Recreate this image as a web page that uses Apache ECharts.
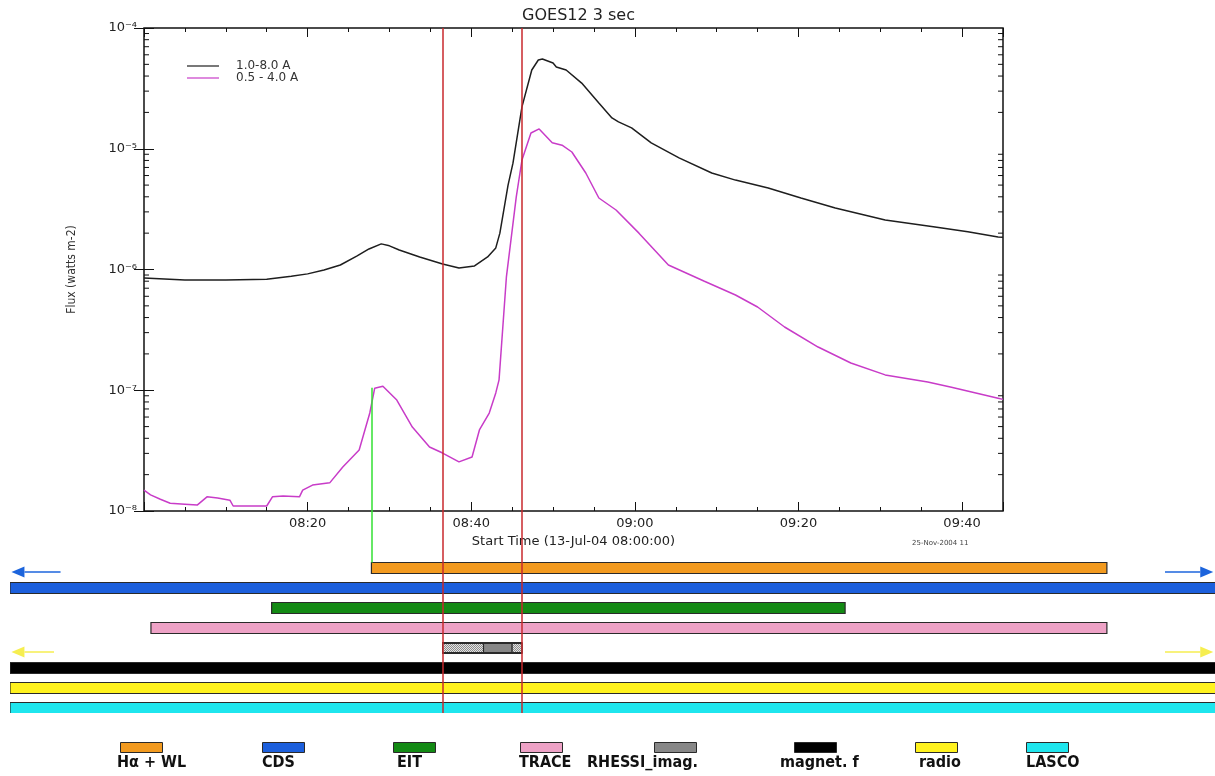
<!DOCTYPE html>
<html><head><meta charset="utf-8">
<script src="https://cdn.jsdelivr.net/npm/echarts@6/dist/echarts.min.js"></script>
<style>html,body{margin:0;padding:0;background:#fff}#c{width:1215px;height:776px}</style>
</head><body><div id="c"></div>
<script>
// ---- data (minutes after 08:00 on 13-Jul-2004) ----
const timeLong = [0,5,10,15,18,20,22,24,26,27.5,29,30,31.2,33.7,36.5,38.5,40.4,42,43,43.5,44.5,45.1,46.2,47.4,48.2,48.7,50,50.4,51.6,53.5,55.6,57.2,58,59.6,62,65.4,69.4,72.3,76.3,80.3,84.5,90.6,96.7,100.7,104.4,105];
const fluxLong = [8.5e-7,8.2e-7,8.2e-7,8.3e-7,8.8e-7,9.2e-7,9.9e-7,1.09e-6,1.29e-6,1.48e-6,1.63e-6,1.57e-6,1.45e-6,1.27e-6,1.11e-6,1.03e-6,1.07e-6,1.27e-6,1.51e-6,2.0e-6,5.0e-6,7.6e-6,2.22e-5,4.49e-5,5.43e-5,5.53e-5,5.13e-5,4.76e-5,4.49e-5,3.5e-5,2.39e-5,1.80e-5,1.67e-5,1.49e-5,1.12e-5,8.4e-6,6.3e-6,5.5e-6,4.73e-6,3.91e-6,3.23e-6,2.57e-6,2.25e-6,2.05e-6,1.86e-6,1.85e-6];
const timeShort = [0,0.8,2,3.2,5,6.5,7.7,9,10.5,10.9,15,15.7,17,19,19.4,20.6,22.7,24.3,26.3,27.6,28.2,29.2,30.9,32.8,34.9,36.5,38.5,40.1,41,42.2,43,43.4,44.3,45.5,46.2,47.3,48.3,49.9,51.1,52.3,54,55.6,57.7,60.5,64.1,68.5,72.3,75,78.3,82.4,86.4,90.6,95.8,98.7,104.4,105];
const fluxShort = [1.49e-8,1.36e-8,1.25e-8,1.16e-8,1.14e-8,1.12e-8,1.31e-8,1.28e-8,1.23e-8,1.10e-8,1.10e-8,1.31e-8,1.33e-8,1.31e-8,1.49e-8,1.64e-8,1.71e-8,2.31e-8,3.20e-8,6.48e-8,1.04e-7,1.08e-7,8.3e-8,4.96e-8,3.39e-8,3.02e-8,2.55e-8,2.80e-8,4.69e-8,6.48e-8,9.5e-8,1.22e-7,8.7e-7,3.98e-6,8.07e-6,1.35e-5,1.46e-5,1.12e-5,1.07e-5,9.4e-6,6.3e-6,3.91e-6,3.11e-6,2.0e-6,1.09e-6,8.0e-7,6.15e-7,4.89e-7,3.34e-7,2.28e-7,1.68e-7,1.34e-7,1.17e-7,1.06e-7,8.6e-8,8.4e-8];

const seriesNames = ['1.0-8.0 A', '0.5 - 4.0 A'];
const xTickValues = [20, 40, 60, 80, 100];
const xTickLabels = ['08:20', '08:40', '09:00', '09:20', '09:40'];
const yTickExponents = [-8, -7, -6, -5, -4];
const yTickLabels = ['10⁻⁸', '10⁻⁷', '10⁻⁶', '10⁻⁵', '10⁻⁴'];
const minorMultipliers = [2, 3, 4, 5, 6, 7, 8, 9];
const minorDecades = [-8, -7, -6, -5];

const instruments = ['Hα + WL', 'CDS', 'EIT', 'TRACE', 'RHESSI_imag.', 'magnet. f', 'radio', 'LASCO'];
const instrumentColors = ['#f29a1f', '#1c5fdc', '#138a14', '#eea2c6', '#878787', '#000000', '#fff21e', '#1fe6ee'];
const barStart = [27.8, -16.38, 15.6, 0.85, 36.5, -16.38, -16.38, -16.38];
const barEnd = [117.7, 160, 85.7, 117.7, 46.2, 160, 160, 160];
const rhessiSegStart = [36.5, 41.5, 45.0];
const rhessiSegEnd = [41.5, 45.0, 46.2];
const rhessiSegHatched = [true, false, true];
const markerTimes = [36.5, 46.2];
const flareMarkTime = 27.8;
const flareMarkFlux = 1.05e-7;
const arrowRow = [0.2, 0.2, 4.2, 4.2];
const arrowFrom = [-10.2, 124.8, -11.0, 124.8];
const arrowTo = [-16.2, 130.7, -16.2, 130.7];
const arrowColors = ['#1c64dc', '#1c64dc', '#f6ee50', '#f6ee50'];

// ---- layout ----
const G = {left: 144, top: 28, width: 859, height: 483};
const ppm = G.width / 105;
const B = {left: 10, top: 511, height: 202};
const bMin = -(G.left - B.left) / ppm;
const bMax = 105 + (1215 - G.left - G.width) / ppm;
const barH = 11;
const legendSwatchX = [120, 262, 393, 520, 654, 794, 915, 1026];
const legendTextX = [117, 262, 397, 519, 587, 780, 919, 1026];
const NARROW = "'Liberation Sans Narrow', 'DejaVu Sans Condensed', 'Liberation Sans', sans-serif";
const FONT = "'DejaVu Sans', sans-serif";

const hatch = document.createElement('canvas');
hatch.width = 2; hatch.height = 2;
(function () {
  const c = hatch.getContext('2d');
  c.fillStyle = '#e4e4e4'; c.fillRect(0, 0, 2, 2);
  c.fillStyle = '#8c8c8c'; c.fillRect(0, 0, 1, 1); c.fillRect(1, 1, 1, 1);
})();

const minorTickValues = [];
minorDecades.forEach(d => minorMultipliers.forEach(m => minorTickValues.push(m * Math.pow(10, d))));

const chart = echarts.init(document.getElementById('c'), null, {renderer: 'canvas'});
const tickStyle = {color: '#111', width: 1};
const greenStyle = {color: '#33e033', width: 1.5, type: 'solid'};
const redStyle = {color: '#c8282d', width: 1.5, type: 'solid'};

const option = {
  backgroundColor: '#fff',
  animation: false,
  title: {
    text: 'GOES12 3 sec', left: G.left + G.width / 2, top: 3, textAlign: 'center',
    textStyle: {fontFamily: FONT, fontSize: 16, fontWeight: 'normal', color: '#222'}
  },
  legend: {
    data: seriesNames, orient: 'vertical', left: 182, top: 55, itemGap: 0,
    icon: 'rect', itemWidth: 32, itemHeight: 1.2,
    textStyle: {fontFamily: FONT, fontSize: 12, color: '#333', lineHeight: 11, padding: [0, 0, 0, 12]}
  },
  grid: [
    {left: G.left, top: G.top, width: G.width, height: G.height, show: true, borderColor: '#111', borderWidth: 1.5, backgroundColor: 'rgba(0,0,0,0)'},
    {left: B.left, top: B.top, right: 0, height: B.height}
  ],
  xAxis: [
    {gridIndex: 0, type: 'value', position: 'bottom', min: 0, max: 105, interval: 20,
     axisLine: {show: false}, splitLine: {show: false},
     axisTick: {inside: true, length: 9, lineStyle: tickStyle},
     axisLabel: {margin: 6, fontFamily: FONT, fontSize: 13, color: '#222',
       formatter: v => { const i = xTickValues.indexOf(v); return i < 0 ? '' : xTickLabels[i]; }},
     name: 'Start Time (13-Jul-04 08:00:00)', nameLocation: 'middle', nameGap: 21,
     nameTextStyle: {fontFamily: FONT, fontSize: 13, color: '#222'}},
    {gridIndex: 0, type: 'value', position: 'bottom', min: 0, max: 105, interval: 5,
     axisLine: {show: false}, splitLine: {show: false}, axisLabel: {show: false},
     axisTick: {inside: true, length: 4, lineStyle: tickStyle}},
    {gridIndex: 0, type: 'value', position: 'top', min: 0, max: 105, interval: 20,
     axisLine: {show: false}, splitLine: {show: false}, axisLabel: {show: false},
     axisTick: {inside: true, length: 9, lineStyle: tickStyle}},
    {gridIndex: 0, type: 'value', position: 'top', min: 0, max: 105, interval: 5,
     axisLine: {show: false}, splitLine: {show: false}, axisLabel: {show: false},
     axisTick: {inside: true, length: 4, lineStyle: tickStyle}},
    {gridIndex: 1, type: 'value', min: bMin, max: bMax, show: false}
  ],
  yAxis: [
    {gridIndex: 0, type: 'log', logBase: 10, min: 1e-8, max: 1e-4, position: 'left',
     axisLine: {show: false}, splitLine: {show: false},
     axisTick: {inside: true, length: 10, lineStyle: tickStyle},
     axisLabel: {margin: 7, fontFamily: FONT, fontSize: 13, color: '#222',
       formatter: v => { const i = yTickExponents.indexOf(Math.round(Math.log10(v))); return i < 0 ? '' : yTickLabels[i]; }},
     name: 'Flux (watts m-2)', nameLocation: 'middle', nameGap: 66,
     nameTextStyle: {fontFamily: NARROW, fontSize: 12, color: '#333'}},
    {gridIndex: 0, type: 'log', logBase: 10, min: 1e-8, max: 1e-4, position: 'right',
     axisLine: {show: false}, splitLine: {show: false}, axisLabel: {show: false},
     axisTick: {inside: true, length: 10, lineStyle: tickStyle}},
    {gridIndex: 1, type: 'value', inverse: true, min: -2.85, max: 7.25, show: false}
  ],
  series: [
    {name: seriesNames[0], type: 'line', xAxisIndex: 0, yAxisIndex: 0, showSymbol: false, symbol: 'none',
     color: '#1e1e1e', lineStyle: {width: 1.5, color: '#1e1e1e'}, z: 3,
     data: timeLong.map((t, i) => [t, fluxLong[i]])},
    {name: seriesNames[1], type: 'line', xAxisIndex: 0, yAxisIndex: 0, showSymbol: false, symbol: 'none',
     color: '#c83cc8', lineStyle: {width: 1.5, color: '#c83cc8'}, z: 3,
     data: timeShort.map((t, i) => [t, fluxShort[i]]),
     markLine: {silent: true, symbol: 'none', label: {show: false}, animation: false,
       data: [
         ...markerTimes.map(t => ({xAxis: t, lineStyle: redStyle})),
         [{coord: [flareMarkTime, flareMarkFlux], lineStyle: greenStyle}, {coord: [flareMarkTime, 1e-8]}]
       ]}},
    {name: 'minorTicks', type: 'custom', xAxisIndex: 0, yAxisIndex: 0, silent: true, z: 4,
     data: minorTickValues.map(v => [0, v]),
     renderItem: (params, api) => {
       const y = api.coord([0, api.value(1)])[1];
       const cs = params.coordSys;
       return {type: 'group', children: [
         {type: 'line', shape: {x1: cs.x, y1: y, x2: cs.x + 5, y2: y}, style: {stroke: '#111', lineWidth: 1}},
         {type: 'line', shape: {x1: cs.x + cs.width - 5, y1: y, x2: cs.x + cs.width, y2: y}, style: {stroke: '#111', lineWidth: 1}}
       ]};
     }},
    {name: 'instruments', type: 'custom', xAxisIndex: 4, yAxisIndex: 2, silent: true, clip: true, z: 2,
     data: instruments.map((n, i) => [i, barStart[i], barEnd[i]]),
     renderItem: (params, api) => {
       const row = api.value(0);
       const p0 = api.coord([api.value(1), row]);
       const p1 = api.coord([api.value(2), row]);
       return {type: 'rect', shape: {x: p0[0], y: p0[1] - barH / 2, width: p1[0] - p0[0], height: barH},
         style: {fill: instrumentColors[row], stroke: '#2a2a2a', lineWidth: 1.2}};
     }},
    {name: 'rhessi', type: 'custom', xAxisIndex: 4, yAxisIndex: 2, silent: true, clip: true, z: 3,
     data: rhessiSegStart.map((s, i) => [4, s, rhessiSegEnd[i], rhessiSegHatched[i] ? 1 : 0]),
     renderItem: (params, api) => {
       const row = api.value(0);
       const p0 = api.coord([api.value(1), row]);
       const p1 = api.coord([api.value(2), row]);
       return {type: 'rect', shape: {x: p0[0], y: p0[1] - barH / 2 + 1, width: p1[0] - p0[0], height: barH - 2},
         style: {fill: api.value(3) ? {image: hatch, repeat: 'repeat'} : instrumentColors[4], stroke: '#2a2a2a', lineWidth: 1.1}};
     }},
    {name: 'arrows', type: 'custom', xAxisIndex: 4, yAxisIndex: 2, silent: true, clip: false, z: 5,
     data: arrowRow.map((r, i) => [r, arrowFrom[i], arrowTo[i], i]),
     renderItem: (params, api) => {
       const r = api.value(0), k = api.value(3);
       const a = api.coord([api.value(1), r]);
       const b = api.coord([api.value(2), r]);
       const dir = Math.sign(b[0] - a[0]);
       const hl = 13, hw = 5.5;
       const col = arrowColors[k];
       return {type: 'group', children: [
         {type: 'line', shape: {x1: a[0], y1: a[1], x2: b[0] - dir * hl, y2: b[1]}, style: {stroke: col, lineWidth: 1.5}},
         {type: 'polygon', shape: {points: [[b[0], b[1]], [b[0] - dir * hl, b[1] - hw], [b[0] - dir * hl, b[1] + hw]]}, style: {fill: col}}
       ]};
     },
     markLine: {silent: true, symbol: 'none', label: {show: false}, animation: false,
       data: [
         ...markerTimes.map(t => ({xAxis: t, lineStyle: redStyle})),
         [{coord: [flareMarkTime, -2.85], lineStyle: greenStyle}, {coord: [flareMarkTime, -0.28]}]
       ]}}
  ],
  graphic: [
    {type: 'text', left: 912, top: 540, style: {text: '25-Nov-2004 11', fontFamily: FONT, fontSize: 7, fill: '#444'}},
    ...instruments.map((n, i) => ({type: 'rect', left: legendSwatchX[i], top: 742,
      shape: {width: 42, height: 10}, style: {fill: instrumentColors[i], stroke: '#2a2a2a', lineWidth: 1}})),
    ...instruments.map((n, i) => ({type: 'text', left: legendTextX[i], top: 755,
      style: {text: n, fontFamily: NARROW, fontWeight: 'bold', fontSize: 16, fill: '#111'}}))
  ]
};
chart.setOption(option);
</script></body></html>
